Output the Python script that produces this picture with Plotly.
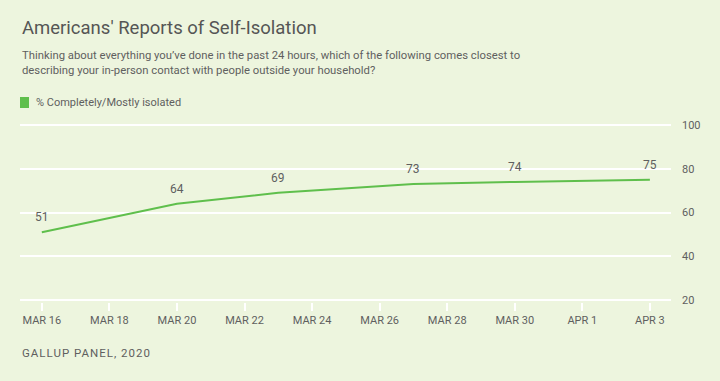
import plotly.graph_objects as go

dates = ["2020-03-16", "2020-03-20", "2020-03-23", "2020-03-27", "2020-03-30", "2020-04-03"]
values = [51, 64, 69, 73, 74, 75]
series_name = "% Completely/Mostly isolated"

tick_dates = ["2020-03-16", "2020-03-18", "2020-03-20", "2020-03-22", "2020-03-24",
              "2020-03-26", "2020-03-28", "2020-03-30", "2020-04-01", "2020-04-03"]
tick_labels = ["MAR 16", "MAR 18", "MAR 20", "MAR 22", "MAR 24",
               "MAR 26", "MAR 28", "MAR 30", "APR 1", "APR 3"]
y_ticks = [20, 40, 60, 80, 100]

BG = "#EDF5DE"
GREEN = "#5FBF4C"
GRAY = "#5f5f5f"
FONT = "Roboto"

fig = go.Figure()
fig.add_trace(go.Scatter(
    x=dates, y=values, mode="lines",
    line=dict(color=GREEN, width=2), name=series_name, showlegend=False,
    cliponaxis=False, hoverinfo="x+y",
))

W, H = 720, 381
L, R, T, B = 20, 49, 123, 79
ph = H - T - B

def py(pix):
    return 1 + (T - pix) / ph

annotations = [
    dict(text=str(v), x=d, y=v, xref="x", yref="y", showarrow=False,
         yanchor="bottom", xanchor="center", yshift=6,
         font=dict(family=FONT, size=12, color=GRAY))
    for d, v in zip(dates, values)
]
annotations += [
    dict(text="Americans' Reports of Self-Isolation", xref="paper", yref="paper",
         x=0, y=py(28), xanchor="left", yanchor="middle", showarrow=False,
         font=dict(family=FONT, size=18.5, color="#555555")),
    dict(text="Thinking about everything you’ve done in the past 24 hours, which of the following comes closest to<br>describing your in-person contact with people outside your household?",
         xref="paper", yref="paper", x=0, y=py(63), xanchor="left", yanchor="middle",
         align="left", showarrow=False,
         font=dict(family=FONT, size=11.3, color=GRAY)),
    dict(text=series_name, xref="paper", yref="paper", x=14 / (W - L - R), y=py(103),
         xanchor="left", yanchor="middle", showarrow=False,
         font=dict(family=FONT, size=11, color=GRAY)),
    dict(text='<span style="letter-spacing:1px">GALLUP PANEL, 2020</span>',
         xref="paper", yref="paper", x=0, y=py(353),
         xanchor="left", yanchor="middle", showarrow=False,
         font=dict(family=FONT, size=11.5, color=GRAY)),
]

fig.update_layout(
    width=W, height=H, paper_bgcolor=BG, plot_bgcolor=BG,
    margin=dict(l=L, r=R, t=T, b=B),
    font=dict(family=FONT, color=GRAY),
    xaxis=dict(type="date", range=["2020-03-15 08:30", "2020-04-03 15:00"],
               tickvals=tick_dates, ticktext=tick_labels, showgrid=False,
               zeroline=False, showline=False, ticks="outside", ticklen=8,
               tickwidth=2, tickcolor="white",
               tickfont=dict(family=FONT, size=11, color=GRAY)),
    yaxis=dict(range=[19, 101], tickvals=y_ticks, side="right", showgrid=True,
               gridcolor="white", gridwidth=2, zeroline=False, showline=False,
               ticks="", ticklabelstandoff=10,
               tickfont=dict(family=FONT, size=11, color=GRAY)),
    shapes=[dict(type="rect", xref="paper", yref="paper", x0=0, x1=9 / (W - L - R),
                 y0=py(108), y1=py(97), fillcolor=GREEN, line=dict(width=0))],
    annotations=annotations,
)

fig.write_html("out.html", config={"displayModeBar": False},
               post_script="document.body.style.margin='0';document.body.style.overflow='hidden';")
